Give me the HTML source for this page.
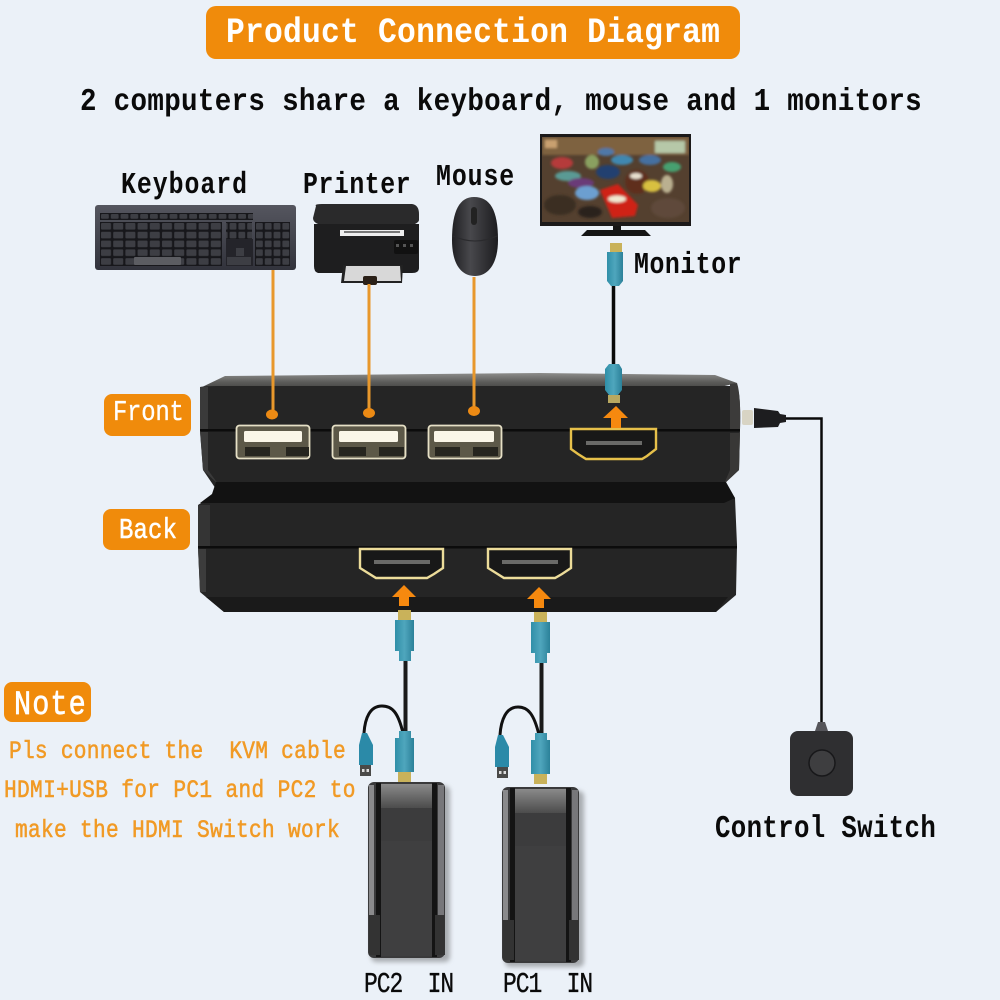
<!DOCTYPE html>
<html><head><meta charset="utf-8"><style>
html,body{margin:0;padding:0;background:#ebf1f8;width:1000px;height:1000px;overflow:hidden}
svg{display:block}
text{font-family:"Liberation Mono","DejaVu Sans Mono",monospace;font-weight:bold}
text.n{font-weight:normal}
</style></head><body>
<svg width="1000" height="1000" viewBox="0 0 1000 1000" xmlns="http://www.w3.org/2000/svg">
<defs>
<pattern id="k" width="12.2" height="8.8" patternUnits="userSpaceOnUse" x="100" y="222"><rect width="12.2" height="8.8" fill="#17171b"/><rect x="1" y="1" width="10" height="6.6" rx="1" fill="#3d3e44"/></pattern>
<pattern id="k2" width="8.8" height="8.8" patternUnits="userSpaceOnUse" x="255" y="222"><rect width="8.8" height="8.8" fill="#17171b"/><rect x="1" y="1" width="6.8" height="6.6" rx="1" fill="#3d3e44"/></pattern>
<pattern id="k3" width="9.8" height="7" patternUnits="userSpaceOnUse" x="100" y="213"><rect width="9.8" height="7" fill="#17171b"/><rect x="1" y="1" width="7.8" height="4.8" rx="1" fill="#3d3e44"/></pattern>
<linearGradient id="kb" x1="0" y1="0" x2="0" y2="1"><stop offset="0" stop-color="#55565f"/><stop offset="1" stop-color="#32333c"/></linearGradient>
<linearGradient id="pt" x1="0" y1="0" x2="0" y2="1"><stop offset="0" stop-color="#8a8a8a"/><stop offset="1" stop-color="#4c4c4c"/></linearGradient>
<linearGradient id="ms" x1="0" y1="0" x2="1" y2="0"><stop offset="0" stop-color="#202023"/><stop offset=".4" stop-color="#48484c"/><stop offset="1" stop-color="#1c1c1f"/></linearGradient>
<linearGradient id="bl" x1="0" y1="0" x2="1" y2="0"><stop offset="0" stop-color="#2f8fa8"/><stop offset=".5" stop-color="#4fa6bd"/><stop offset="1" stop-color="#2b8199"/></linearGradient>
<linearGradient id="top" x1="0" y1="0" x2="0" y2="1"><stop offset="0" stop-color="#8d8d8b"/><stop offset=".5" stop-color="#5a5a58"/><stop offset="1" stop-color="#3a3a39"/></linearGradient>
<filter id="b2"><feGaussianBlur stdDeviation="1.200"/></filter>
<filter id="sh"><feGaussianBlur stdDeviation="2.500"/></filter>
</defs>
<rect width="1000" height="1000" fill="#ebf1f8"/>

<!-- title -->
<rect x="206" y="6" width="534" height="53" rx="10" fill="#f08b0b"/>
<text transform="translate(226 42) scale(.95 1.08)" font-size="33" fill="#fff" textLength="520" lengthAdjust="spacing">Product Connection Diagram</text>
<text transform="translate(80 110) scale(.95 1.1)" font-size="29" fill="#0a0a0a" textLength="886" lengthAdjust="spacing">2 computers share a keyboard, mouse and 1 monitors</text>
<text transform="translate(121 193) scale(.92 1.12)" font-size="27" fill="#0a0a0a" textLength="137" lengthAdjust="spacing">Keyboard</text>
<text transform="translate(303 193) scale(.92 1.12)" font-size="27" fill="#0a0a0a" textLength="117" lengthAdjust="spacing">Printer</text>
<text transform="translate(436 185) scale(.92 1.12)" font-size="27" fill="#0a0a0a" textLength="85" lengthAdjust="spacing">Mouse</text>
<text transform="translate(634 273) scale(.92 1.12)" font-size="27" fill="#0a0a0a" textLength="117" lengthAdjust="spacing">Monitor</text>

<!-- keyboard -->
<rect x="95" y="205" width="201" height="65" rx="3" fill="url(#kb)"/>
<rect x="100" y="213" width="153" height="7" fill="url(#k3)"/>
<rect x="100" y="222" width="122" height="44" fill="url(#k)"/>
<rect x="134" y="257" width="47" height="8" rx="1" fill="#5c5d62"/>
<rect x="226" y="222" width="26" height="17" fill="url(#k2)"/>
<rect x="226" y="239" width="27" height="27" fill="#24242a"/>
<rect x="236" y="248" width="8" height="8" fill="#3d3e44"/>
<rect x="227" y="257" width="24" height="8" fill="#3d3e44"/>
<rect x="255" y="222" width="35" height="44" fill="url(#k2)"/>

<!-- printer -->
<path d="M316 206 Q314 204 322 204 H412 Q419 205 419 214 V220 Q419 222 415 224 H318 Q313 222 313 218 Z" fill="#2a2a2b"/>
<path d="M314 224 H419 V268 Q419 273 412 273 H318 Q314 272 314 266 Z" fill="#1e1e1f"/>
<rect x="340" y="230" width="64" height="6" fill="#eeeeee"/>
<rect x="344" y="231" width="56" height="2" fill="#777"/>
<rect x="394" y="240" width="24" height="14" rx="2" fill="#111"/>
<rect x="396" y="244" width="3" height="3" fill="#555"/><rect x="403" y="244" width="3" height="3" fill="#555"/><rect x="410" y="244" width="3" height="3" fill="#555"/>
<path d="M343 265 H403 L402 283 H341 Z" fill="#222"/>
<path d="M346 266 H400 L401 281 H344 Z" fill="#d8d8d8"/>
<rect x="363" y="276" width="14" height="9" rx="2" fill="#2a2018"/>

<!-- mouse -->
<path d="M474 197 C490 197 498 210 498 240 C498 264 488 276 475 276 C461 276 452 264 452 240 C452 210 460 197 474 197 Z" fill="url(#ms)"/>
<rect x="471" y="207" width="6" height="18" rx="3" fill="#222"/>
<path d="M453 236 Q475 246 497 236" fill="none" stroke="#2a2a2d" stroke-width="1"/>

<!-- monitor -->
<rect x="540" y="134" width="151" height="92" fill="#1c1a1a"/>
<path d="M581 236 L587 230 H613 V226 H621 V230 H645 L651 236 Z" fill="#151515"/>
<svg x="542" y="137" width="147" height="85" viewBox="542 137 147 85">
<rect x="542" y="137" width="147" height="85" fill="#54402f"/>
<g filter="url(#b2)">
<rect x="542" y="137" width="147" height="18" fill="#7e6240"/>
<rect x="655" y="141" width="30" height="12" fill="#b6c8a8"/>
<rect x="545" y="140" width="12" height="8" fill="#c9a070"/>
<ellipse cx="562" cy="163" rx="11" ry="6" fill="#b53a3a"/>
<ellipse cx="568" cy="176" rx="13" ry="5" fill="#5a9a94"/>
<ellipse cx="581" cy="183" rx="13" ry="5" fill="#6a3a78"/>
<ellipse cx="587" cy="193" rx="12" ry="7" fill="#6c9fd0"/>
<ellipse cx="608" cy="172" rx="12" ry="7" fill="#24406f"/>
<ellipse cx="592" cy="162" rx="7" ry="7" fill="#8aa060"/>
<ellipse cx="622" cy="160" rx="11" ry="5" fill="#3f88b0"/>
<ellipse cx="606" cy="152" rx="8" ry="4" fill="#4f78a8"/>
<ellipse cx="637" cy="182" rx="12" ry="12" fill="#5e2f1c"/>
<ellipse cx="636" cy="176" rx="6" ry="3" fill="#e8e0d0"/>
<ellipse cx="652" cy="186" rx="9" ry="6" fill="#d8c040"/>
<ellipse cx="667" cy="184" rx="6" ry="9" fill="#bab090"/>
<ellipse cx="672" cy="167" rx="9" ry="5" fill="#47a070"/>
<ellipse cx="650" cy="160" rx="11" ry="5" fill="#4470a0"/>
<path d="M600 190 L618 184 L638 205 L635 216 L612 218 Z" fill="#cf2418"/>
<ellipse cx="617" cy="199" rx="9" ry="3.500" fill="#f0e8d0"/>
<ellipse cx="560" cy="205" rx="16" ry="10" fill="#3a2e24"/>
<ellipse cx="668" cy="208" rx="17" ry="10" fill="#5e4a3a"/>
<ellipse cx="590" cy="212" rx="12" ry="6" fill="#2b221b"/>
</g>
</svg>

<!-- device -->
<path d="M200 388 L225 376 L540 373 L715 375 L737 383 L700 392 H210 Z" fill="url(#top)"/>
<path d="M200 387 Q205 386 218 386 H737 Q741 395 740 430 L739 470 L724 484 L735 498 L737 545 L736 595 L716 612 H224 L200 592 L198 547 L198 505 L218 492 L203 470 L200 430 Z" fill="#252525"/>
<path d="M200 387 L208 387 V429 L200 430 Z" fill="#3a3a3a"/>
<path d="M200 432 L208 432 V470 L218 484 L203 470 Z" fill="#3a3a3a"/>
<path d="M198 505 L210 505 V546 L198 546 Z" fill="#343434"/>
<path d="M198 549 L206 549 V592 L200 592 Z" fill="#3c3c3c"/>
<path d="M730 384 L737 383 Q741 395 740 430 L730 430 Z" fill="#3c3b3a"/>
<path d="M730 433 L740 433 L739 470 L724 484 L730 470 Z" fill="#383736"/>
<rect x="200" y="429" width="540" height="2.500" fill="#0c0c0c"/>
<path d="M216 482 H726 L735 498 L724 503 H200 L212 494 Z" fill="#121212"/>
<rect x="198" y="546" width="539" height="2.500" fill="#0c0c0c"/>
<path d="M206 597 H728 L716 612 H224 Z" fill="#1a1a1a"/>

<!-- USB ports -->
<g>
<rect x="236.500" y="425.500" width="73" height="33" rx="3" fill="#5c5848" stroke="#e6e0c6" stroke-width="1.800"/>
<rect x="244" y="431" width="58" height="11" rx="1.500" fill="#faf6e8"/>
<rect x="245" y="447" width="25" height="9" fill="#26251f"/><rect x="286" y="447" width="23" height="9" fill="#26251f"/>
</g>
<g>
<rect x="332.500" y="425.500" width="73" height="33" rx="3" fill="#5c5848" stroke="#e6e0c6" stroke-width="1.800"/>
<rect x="339" y="431" width="59" height="11" rx="1.500" fill="#faf6e8"/>
<rect x="339" y="447" width="27" height="9" fill="#26251f"/><rect x="379" y="447" width="25" height="9" fill="#26251f"/>
</g>
<g>
<rect x="428.500" y="425.500" width="73" height="33" rx="3" fill="#5c5848" stroke="#e6e0c6" stroke-width="1.800"/>
<rect x="434" y="431" width="60" height="11" rx="1.500" fill="#faf6e8"/>
<rect x="435" y="447" width="25" height="9" fill="#26251f"/><rect x="473" y="447" width="25" height="9" fill="#26251f"/>
</g>

<!-- HDMI ports -->
<path d="M571 429 H656 V449 L647 456 L642 459 H586 L578 454 L571 449 Z" fill="#181818" stroke="#e6c04a" stroke-width="2.400"/>
<rect x="586" y="441" width="56" height="4" fill="#6a6a68"/>
<path d="M360 549 H443 V568 L434 574 L427 578 H376 L368 573 L360 568 Z" fill="#181818" stroke="#ecdc9a" stroke-width="2.400"/>
<rect x="374" y="560" width="56" height="4" fill="#6a6a68"/>
<path d="M488 549 H571 V568 L562 574 L555 578 H504 L496 573 L488 568 Z" fill="#181818" stroke="#ecdc9a" stroke-width="2.400"/>
<rect x="502" y="560" width="56" height="4" fill="#6a6a68"/>

<!-- orange leads -->
<g stroke="#e8982c" stroke-width="3" fill="none">
<line x1="273" y1="270" x2="273" y2="412"/>
<line x1="369" y1="284" x2="369" y2="410"/>
<line x1="474" y1="277" x2="474" y2="408"/>
</g>
<g fill="#ec8a14">
<ellipse cx="272" cy="414.500" rx="6" ry="5"/>
<ellipse cx="369" cy="413" rx="6" ry="5"/>
<ellipse cx="474" cy="411" rx="6" ry="5"/>
</g>
<path d="M616 406 L628 418 H621 V428 H611 V418 H603 Z" fill="#f6890f"/>
<path d="M404 585 L416 597 H409 V606 H399 V597 H392 Z" fill="#f6890f"/>
<path d="M539 587 L551 599 H544 V608 H534 V599 H527 Z" fill="#f6890f"/>

<!-- labels -->
<rect x="104" y="394" width="87" height="42" rx="8" fill="#f08b0b"/>
<text class="n" transform="translate(113 420) scale(.92 1.1)" font-size="26" fill="#fff" stroke="#fff" stroke-width=".3" textLength="77" lengthAdjust="spacing">Front</text>
<rect x="103" y="509" width="87" height="41" rx="8" fill="#f08b0b"/>
<text class="n" transform="translate(119 538) scale(.92 1.1)" font-size="26" fill="#fff" stroke="#fff" stroke-width=".5" textLength="63" lengthAdjust="spacing">Back</text>
<rect x="4" y="682" width="87" height="40" rx="8" fill="#f08b0b"/>
<text class="n" transform="translate(14 714) scale(.92 1.1)" font-size="31" fill="#fff" stroke="#fff" stroke-width=".6" textLength="78" lengthAdjust="spacing">Note</text>
<text class="n" transform="translate(9 758) scale(.92 1.08)" font-size="23" fill="#f19a25" stroke="#f19a25" stroke-width=".5" textLength="366" lengthAdjust="spacing">Pls connect the&#160;&#160;KVM cable</text>
<text class="n" transform="translate(4 797) scale(.92 1.08)" font-size="23" fill="#f19a25" stroke="#f19a25" stroke-width=".5" textLength="382" lengthAdjust="spacing">HDMI+USB for PC1 and PC2 to</text>
<text class="n" transform="translate(15 837) scale(.92 1.08)" font-size="23" fill="#f19a25" stroke="#f19a25" stroke-width=".5" textLength="353" lengthAdjust="spacing">make the HDMI Switch work</text>

<!-- monitor cable -->
<line x1="613.500" y1="284" x2="613.500" y2="364" stroke="#0a0a0a" stroke-width="3.500"/>
<rect x="610" y="243" width="12" height="9" fill="#c9b25a"/>
<path d="M607 252 H623 V281 L619 286 H611 L607 281 Z" fill="url(#bl)"/>
<path d="M609 364 H619 L622 369 V390 L618 395 H609 L605 390 V369 Z" fill="url(#bl)"/>
<rect x="608" y="395" width="12" height="8" fill="#b8a860"/>

<!-- PC2 cable -->
<line x1="405.500" y1="660" x2="405.500" y2="732" stroke="#1a1a1a" stroke-width="4"/>
<path d="M403 733 C398 712 392 706 382 706 C370 706 365 718 364 733" fill="none" stroke="#111" stroke-width="3"/>
<rect x="398" y="610" width="13" height="10" fill="#c9b25a"/>
<path d="M395 620 H414 V651 H411 V661 H399 V651 H395 Z" fill="url(#bl)"/>
<path d="M399 731 H411 V738 H414 V772 H395 V738 H399 Z" fill="url(#bl)"/>
<rect x="398" y="772" width="13" height="10" fill="#c9b25a"/>
<path d="M362 733 H367 L373 745 V765 H359 V745 Z" fill="#2b8aa8"/>
<rect x="360" y="765" width="11" height="11" fill="#4a4a48"/>
<rect x="362" y="769" width="2.500" height="3" fill="#ddd"/><rect x="366.500" y="769" width="2.500" height="3" fill="#ddd"/>

<!-- PC1 cable -->
<line x1="541.500" y1="662" x2="541.500" y2="734" stroke="#1a1a1a" stroke-width="4"/>
<path d="M539 735 C534 714 528 707 518 707 C506 707 501 720 500 735" fill="none" stroke="#111" stroke-width="3"/>
<rect x="534" y="612" width="13" height="10" fill="#c9b25a"/>
<path d="M531 622 H550 V653 H547 V663 H535 V653 H531 Z" fill="url(#bl)"/>
<path d="M535 733 H547 V740 H550 V774 H531 V740 H535 Z" fill="url(#bl)"/>
<rect x="534" y="774" width="13" height="10" fill="#c9b25a"/>
<path d="M498 735 H503 L509 747 V767 H495 V747 Z" fill="#2b8aa8"/>
<rect x="497" y="767" width="11" height="11" fill="#4a4a48"/>
<rect x="499" y="771" width="2.500" height="3" fill="#ddd"/><rect x="503.500" y="771" width="2.500" height="3" fill="#ddd"/>

<!-- PC2 -->
<rect x="371" y="786" width="79" height="176" rx="5" fill="#a8acb0" filter="url(#sh)"/>
<rect x="368" y="782" width="77" height="176" rx="6" fill="#3a3a3b"/>
<rect x="380" y="784" width="53" height="24" fill="url(#pt)"/>
<rect x="380" y="808" width="53" height="33" fill="#3c3c3d"/>
<rect x="381" y="841" width="51" height="115" fill="#3f3f40"/>
<rect x="369" y="785" width="5" height="170" fill="#8a8a8c"/><rect x="438" y="785" width="6" height="170" fill="#77777a"/>
<rect x="376" y="783" width="5" height="174" fill="#141414"/><rect x="432" y="783" width="5" height="174" fill="#141414"/>
<rect x="369" y="915" width="11" height="40" fill="#333"/><rect x="435" y="915" width="10" height="40" fill="#333"/>

<!-- PC1 -->
<rect x="505" y="791" width="79" height="176" rx="5" fill="#a8acb0" filter="url(#sh)"/>
<rect x="502" y="787" width="77" height="176" rx="6" fill="#3a3a3b"/>
<rect x="514" y="789" width="53" height="24" fill="url(#pt)"/>
<rect x="514" y="813" width="53" height="33" fill="#3c3c3d"/>
<rect x="515" y="846" width="51" height="115" fill="#3f3f40"/>
<rect x="503" y="790" width="5" height="170" fill="#8a8a8c"/><rect x="572" y="790" width="6" height="170" fill="#77777a"/>
<rect x="510" y="788" width="5" height="174" fill="#141414"/><rect x="566" y="788" width="5" height="174" fill="#141414"/>
<rect x="503" y="920" width="11" height="40" fill="#333"/><rect x="569" y="920" width="10" height="40" fill="#333"/>

<text class="n" transform="translate(364 992) scale(.92 1.15)" font-size="25" fill="#0a0a0a" stroke="#0a0a0a" stroke-width=".3" textLength="98" lengthAdjust="spacing">PC2&#160;&#160;IN</text>
<text class="n" transform="translate(503 992) scale(.92 1.15)" font-size="25" fill="#0a0a0a" stroke="#0a0a0a" stroke-width=".3" textLength="98" lengthAdjust="spacing">PC1&#160;&#160;IN</text>
<text transform="translate(715 837) scale(.92 1.12)" font-size="28" fill="#0a0a0a" textLength="240" lengthAdjust="spacing">Control Switch</text>

<!-- control switch cable -->
<rect x="742" y="410" width="11" height="15" rx="2" fill="#d8d4c4"/>
<path d="M754 408 L778 411 L780 414 L786 415 V422 L780 423 L778 427 L754 428 Z" fill="#1d1d1f"/>
<path d="M786 418.500 H821.500 V724" fill="none" stroke="#0a0a0a" stroke-width="2.500"/>
<path d="M818 722 H825 L828 731 H815 Z" fill="#55555a"/>
<rect x="790" y="731" width="63" height="65" rx="8" fill="#2f2f31"/>
<circle cx="822" cy="763" r="13" fill="#3e3e40" stroke="#18181a" stroke-width="1.500"/>
</svg>
</body></html>
